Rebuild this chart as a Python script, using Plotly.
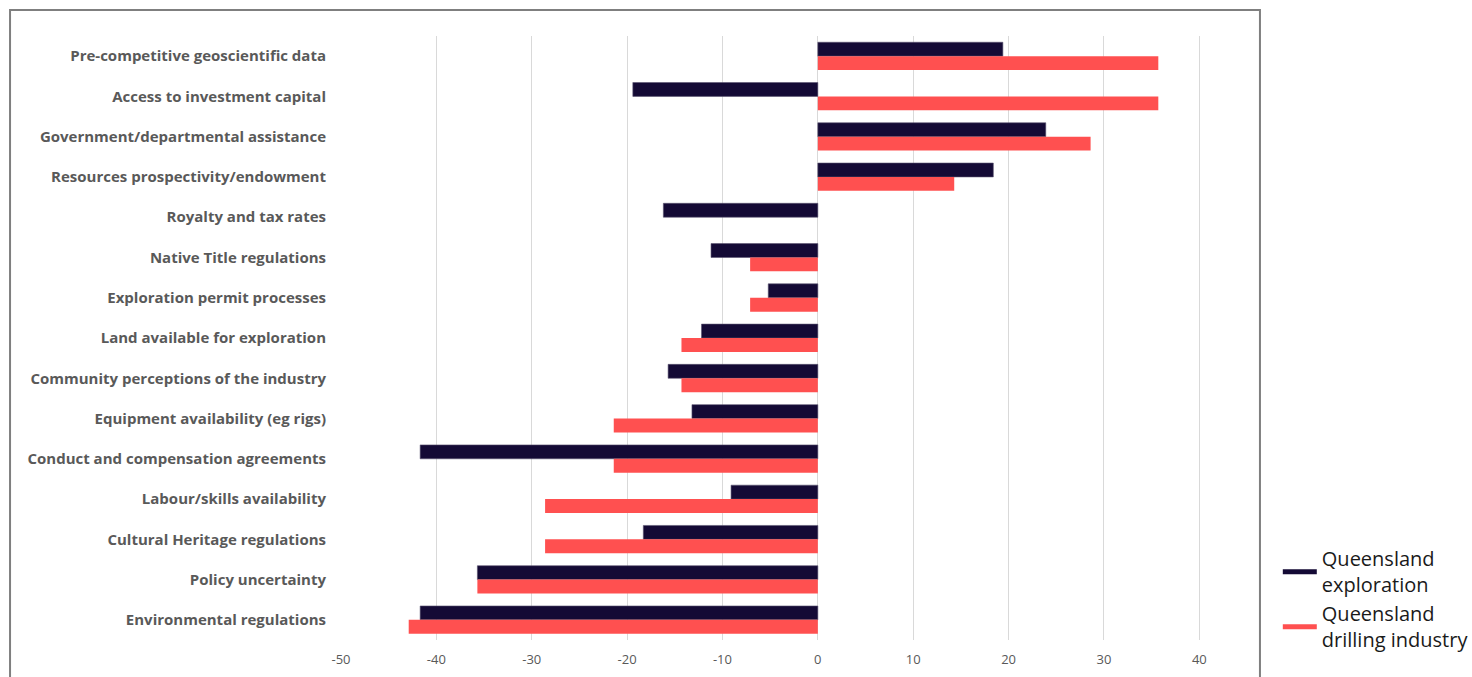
import plotly.graph_objects as go

categories = [
    "Pre-competitive geoscientific data",
    "Access to investment capital",
    "Government/departmental assistance",
    "Resources prospectivity/endowment",
    "Royalty and tax rates",
    "Native Title regulations",
    "Exploration permit processes",
    "Land available for exploration",
    "Community perceptions of the industry",
    "Equipment availability (eg rigs)",
    "Conduct and compensation agreements",
    "Labour/skills availability",
    "Cultural Heritage regulations",
    "Policy uncertainty",
    "Environmental regulations",
]
exploration = [19.4, -19.4, 23.9, 18.4, -16.2, -11.2, -5.2, -12.2, -15.7, -13.2, -41.7, -9.1, -18.3, -35.7, -41.7]
drilling = [35.7, 35.7, 28.6, 14.3, 0, -7.1, -7.1, -14.3, -14.3, -21.4, -21.4, -28.6, -28.6, -35.7, -42.9]
x_ticks = [-50, -40, -30, -20, -10, 0, 10, 20, 30, 40]
x_tick_labels = [str(v) for v in x_ticks]

C_EXP = "#140a35"
C_DRL = "#ff5050"
FONT = "Open Sans"

fig = go.Figure()
fig.add_trace(go.Bar(y=categories, x=exploration, orientation="h", marker_color=C_EXP,
                     marker_line=dict(color="#5a5470", width=0.6), showlegend=False,
                     name="Queensland exploration"))
fig.add_trace(go.Bar(y=categories, x=drilling, orientation="h", marker_color=C_DRL,
                     marker_line=dict(width=0), showlegend=False,
                     name="Queensland drilling industry"))
# legend entries shown as line swatches
fig.add_trace(go.Scatter(x=[None], y=[None], mode="lines", line=dict(color=C_EXP, width=5),
                         name="Queensland<br>exploration"))
fig.add_trace(go.Scatter(x=[None], y=[None], mode="lines", line=dict(color=C_DRL, width=5),
                         name="Queensland<br>drilling industry"))

fig.update_layout(
    width=1472, height=677,
    margin=dict(l=341, r=225, t=36, b=37, autoexpand=False),
    paper_bgcolor="white", plot_bgcolor="white",
    barmode="group", bargap=0.31, bargroupgap=0,
    font=dict(family=FONT, color="#595959"),
    legend=dict(x=1.034, y=0.167, xanchor="left", yanchor="top",
                font=dict(family=FONT, size=20, color="#1a1a1a"),
                tracegroupgap=21, itemwidth=34, bgcolor="rgba(0,0,0,0)"),
    shapes=[dict(type="rect", xref="paper", yref="paper",
                 x0=-0.3653, x1=1.0143, y0=-0.08, y1=1.043,
                 line=dict(color="#7f7f7f", width=2), fillcolor="rgba(0,0,0,0)", layer="below")],
)
fig.update_xaxes(range=[-50, 45], tickvals=x_ticks, ticktext=x_tick_labels, showgrid=True,
                 gridcolor="#d9d9d9", gridwidth=1, zeroline=False, showline=False, ticks="",
                 automargin=False,
                 tickfont=dict(family=FONT, size=13, color="#595959"), ticklabelstandoff=10)
fig.update_yaxes(autorange="reversed", showgrid=False, zeroline=False, showline=False, ticks="",
                 automargin=False,
                 tickfont=dict(family=FONT, size=15, color="#595959", weight="bold"),
                 ticklabelstandoff=14)

fig.write_html(
    "out.html",
    config={"displayModeBar": False},
    post_script="document.body.style.margin='0px';document.body.style.overflow='hidden';",
)
